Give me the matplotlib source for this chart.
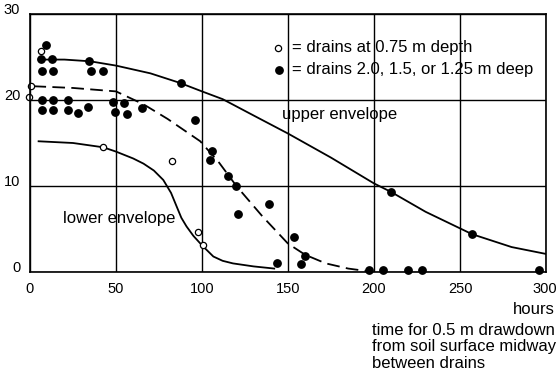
import matplotlib.pyplot as plt
import matplotlib.transforms as mtransforms

plt.rcParams['font.family'] = ['Liberation Sans', 'DejaVu Sans']

# measured points: drains 2.0, 1.5 or 1.25 m deep (hours, value)
deep_x = [9.3, 6.2, 12.6, 34.5, 7.2, 13.5, 35.5, 42.3,
          7.2, 13.5, 22.3, 48.4, 54.7, 7.2, 13.5, 21.9, 28.1, 33.9, 49.4, 56.4, 64.9,
          87.6, 95.9, 105.6, 104.7, 114.9, 119.8, 139.1, 120.9,
          153.7, 160.0, 157.6, 143.4, 197.3, 205.4, 219.6, 227.7, 296.1,
          209.7, 256.8]
deep_y = [26.4, 24.8, 24.8, 24.5, 23.4, 23.4, 23.4, 23.4,
          20.0, 20.0, 20.0, 19.8, 19.7, 18.8, 18.8, 18.8, 18.45, 19.2, 18.6, 18.4, 19.1,
          22.0, 17.7, 14.1, 13.0, 11.2, 10.0, 7.9, 6.7,
          4.1, 1.9, 0.9, 1.0, 0.2, 0.2, 0.2, 0.2, 0.2,
          9.3, 4.4]

# drains at 0.75 m depth
shallow_x = [0.3, -0.8, 6.5, 42.6, 82.7, 97.9, 100.4]
shallow_y = [21.6, 20.4, 25.7, 14.5, 12.9, 4.6, 3.1]

# envelopes
upper_x = [5, 20, 35, 50, 70, 87, 100, 112, 130, 150, 175, 200, 210, 230, 257, 280, 300]
upper_y = [24.7, 24.7, 24.5, 24.0, 23.1, 22.0, 21.0, 20.1, 18.2, 16.1, 13.3, 10.3, 9.3, 7.0, 4.4, 2.9, 2.1]

mid_x = [2, 25, 50, 66, 80, 99, 110, 120, 135, 150, 160, 172, 185, 198]
mid_y = [21.6, 21.4, 21.0, 19.5, 17.8, 15.2, 12.7, 10.0, 6.5, 3.3, 2.0, 1.0, 0.4, 0.05]

lower_x = [5, 25, 42.6, 50, 60, 66, 72, 77.5, 82, 85.3, 88, 91, 95, 100, 106.6, 112, 118, 130, 142]
lower_y = [15.2, 15.0, 14.5, 14.0, 13.2, 12.6, 11.8, 10.7, 9.2, 7.6, 6.3, 5.3, 4.2, 3.1, 1.8, 1.3, 1.0, 0.65, 0.4]

xticks = [0, 50, 100, 150, 200, 250, 300]
yticks = [0, 10, 20, 30]

fig = plt.figure(figsize=(5.57, 3.82), dpi=100)
ax = fig.add_axes([30 / 557, 1 - 272 / 382, 516 / 557, 258 / 382])

ax.plot(upper_x, upper_y, color='black', lw=1.3)
ax.plot(lower_x, lower_y, color='black', lw=1.3)
ax.plot(mid_x, mid_y, color='black', lw=1.3, dashes=[7, 3.5])

ax.plot(deep_x, deep_y, 'o', color='black', ms=5.3, clip_on=False)
ax.plot(shallow_x, shallow_y, 'o', mfc='white', mec='black', mew=0.9, ms=4.5, clip_on=False)

ax.set_xlim(0, 300)
ax.set_ylim(0, 30)
ax.set_xticks(xticks)
ax.set_yticks(yticks)
ax.grid(True, color='black', lw=1.0)
ax.set_axisbelow(True)
for s in ax.spines.values():
    s.set_linewidth(1.2)
ax.tick_params(length=0, labelsize=10.5, pad=7)

off = mtransforms.ScaledTranslation(0, 5 / 100, fig.dpi_scale_trans)
for lab in ax.get_yticklabels():
    lab.set_transform(lab.get_transform() + off)
xoff = mtransforms.ScaledTranslation(-1.5 / 100, 0, fig.dpi_scale_trans)
ax.get_xticklabels()[-1].set_transform(ax.get_xticklabels()[-1].get_transform() + xoff)

# legend drawn as text
ax.plot([144.2], [26.05], 'o', mfc='white', mec='black', mew=0.9, ms=4.5)
ax.plot([144.8], [23.5], 'o', color='black', ms=5.3)
ax.text(152.2, 26.05, '= drains at 0.75 m depth', fontsize=12, va='center')
ax.text(152.2, 23.5, '= drains 2.0, 1.5, or 1.25 m deep', fontsize=12, va='center')

ax.text(146.5, 18.3, 'upper envelope', fontsize=12, va='center')
ax.text(19.4, 6.2, 'lower envelope', fontsize=12, va='center')

fig.text(555 / 557, 1 - 310 / 382, 'hours', fontsize=12, ha='right', va='center')
fig.text(372 / 557, 1 - 347 / 382,
         'time for 0.5 m drawdown\nfrom soil surface midway\nbetween drains',
         fontsize=12, ha='left', va='center', linespacing=1.1)

fig.savefig('out.png', dpi=100)
